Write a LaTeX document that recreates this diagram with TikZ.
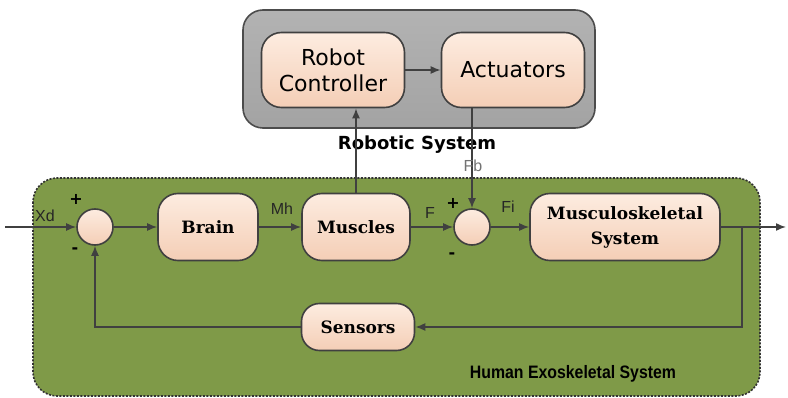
\documentclass[tikz,border=0pt]{standalone}
\usepackage{fontspec}
\newfontfamily\dejasans{DejaVu Sans}
\newfontfamily\dejaserif{DejaVu Serif}
\newfontfamily\labsans{Liberation Sans}
\usetikzlibrary{arrows.meta}
\definecolor{greenbg}{RGB}{127,154,72}
\definecolor{darkline}{RGB}{64,64,64}
\definecolor{peachtop}{RGB}{253,236,224}
\definecolor{peachbot}{RGB}{244,206,182}
\tikzset{
  x=1pt, y=-1pt,
  peachbox/.style={draw=darkline, line width=1.6pt, rounded corners=20pt,
    top color=peachtop, bottom color=peachbot, align=center, inner sep=0pt},
  robbox/.style={peachbox, font=\dejasans\fontsize{22}{26}\selectfont},
  humbox/.style={peachbox, font=\dejaserif\bfseries\fontsize{17}{25}\selectfont},
  sumnode/.style={circle, draw=darkline, line width=1.6pt, top color=peachtop,
    bottom color=peachbot, minimum size=36pt, inner sep=0pt},
  conn/.style={draw=darkline, line width=1.5pt, -{Latex[length=10pt,width=8pt]}},
  siglabel/.style={font=\labsans\fontsize{16}{18}\selectfont, text=black!85},
  signlabel/.style={font=\dejasans\bfseries\fontsize{16}{18}\selectfont},
}
\begin{document}
\begin{tikzpicture}
\useasboundingbox (0,0) rectangle (788,398);
\fill[white] (0,0) rectangle (788,398);
% human box
\draw[fill=greenbg, draw=black!80, line width=1.6pt, dash pattern=on 2pt off 1.5pt, rounded corners=24pt]
  (33,178) rectangle (760,396);
% robot box
\draw[top color=gray!60, bottom color=gray!72, draw=black!70, line width=1.6pt, rounded corners=20pt]
  (243,10) rectangle (595,128);
% nodes
\node[robbox, minimum width=143pt, minimum height=75pt] (ctrl) at (333,70) {Robot\\Controller};
\node[robbox, minimum width=143pt, minimum height=75pt] (act) at (513,70) {Actuators};
\node[sumnode] (s1) at (95,227) {};
\node[humbox, minimum width=100pt, minimum height=67pt] (brain) at (208,227) {Brain};
\node[humbox, minimum width=108pt, minimum height=67pt] (musc) at (356,227) {Muscles};
\node[sumnode] (s2) at (472,227) {};
\node[humbox, minimum width=190pt, minimum height=67pt] (msk) at (625,227) {Musculoskeletal\\System};
\node[humbox, minimum width=113pt, minimum height=47pt, rounded corners=18pt] (sens) at (358,327) {Sensors};
\coordinate (in) at (5,227);
\coordinate (out) at (786,227);
\coordinate (br) at (742,227);
% labels
\node[font=\dejasans\bfseries\fontsize{18}{20}\selectfont] (rlab) at (417,145) {Robotic System};
\node[font=\labsans\bfseries\fontsize{18}{20}\selectfont, xscale=0.88] (hlab) at (573,374) {Human Exoskeletal System};
% connectors
\draw[conn] (ctrl) -- (act);
\draw[conn] (musc.north) -- (musc.north |- ctrl.south);
\draw[conn] (s2.north |- act.south) -- (s2.north);
\draw[conn] (in) -- (s1.west);
\draw[conn] (s1) -- (brain);
\draw[conn] (brain) -- (musc);
\draw[conn] (musc) -- (s2);
\draw[conn] (s2) -- (msk);
\draw[conn] (msk.east) -- (out);
\draw[conn] (br) |- (sens.east);
\draw[conn] (sens.west) -| (s1.south);
% signal labels
\node[siglabel] (xd) at (45,216) {Xd};
\node[siglabel] (mh) at (282,209) {Mh};
\node[siglabel] (f) at (430,213) {F};
\node[siglabel] (fi) at (508,207) {Fi};
\node[siglabel, text=black!55] (fb) at (473,166) {Fb};
\node[signlabel] (p1) at (76,199) {+};
\node[signlabel] (m1) at (75,251) {-};
\node[signlabel] (p2) at (453,203) {+};
\node[signlabel] (m2) at (452,256) {-};
\end{tikzpicture}
\end{document}
